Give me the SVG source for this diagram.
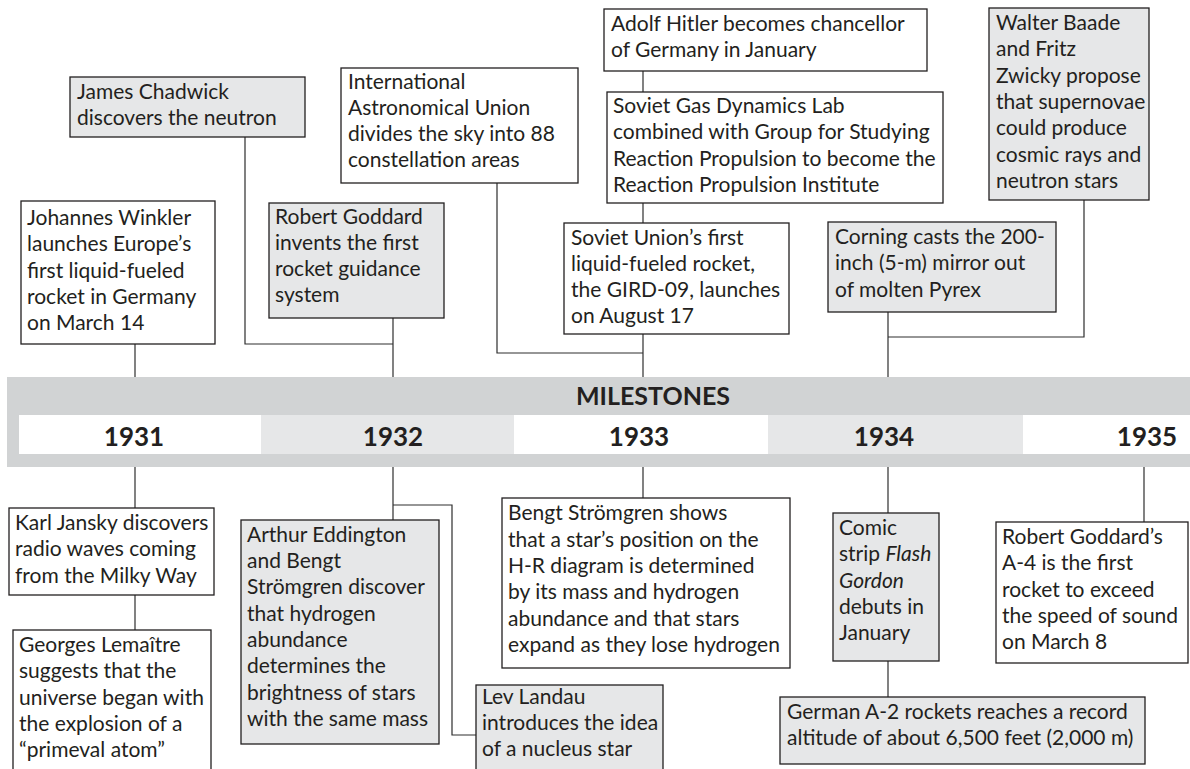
<svg xmlns="http://www.w3.org/2000/svg" width="1190" height="769" viewBox="0 0 1190 769">
  <style>
    .box { stroke: #231f20; stroke-width: 1.3; }
    .w { fill: #ffffff; }
    .g { fill: #e6e7e8; }
    .t { font-family: Lato, "Open Sans", "Liberation Sans", sans-serif; font-size: 21px; fill: #231f20; }
    .yr { font-family: Lato, "Open Sans", "Liberation Sans", sans-serif; font-size: 26px; font-weight: 700; fill: #231f20; text-anchor: middle; }
    .hd { font-family: Lato, "Open Sans", "Liberation Sans", sans-serif; font-size: 25px; font-weight: 700; fill: #231f20; text-anchor: middle; }
    .con { fill: none; stroke: #2e2e2e; stroke-width: 1.2; }
    .i { font-style: italic; }
  </style>
  <rect width="1190" height="769" fill="#ffffff"/>

  <!-- timeline band -->
  <g id="band">
    <rect x="7" y="377" width="1183" height="90" fill="#d1d3d4"/>
    <rect x="19" y="415" width="242" height="39" fill="#ffffff"/>
    <rect x="261" y="415" width="253" height="39" fill="#e6e7e8"/>
    <rect x="514" y="415" width="254" height="39" fill="#ffffff"/>
    <rect x="768" y="415" width="255" height="39" fill="#e6e7e8"/>
    <rect x="1023" y="415" width="167" height="39" fill="#ffffff"/>
    <text class="hd" x="653" y="405">MILESTONES</text>
    <text class="yr" x="134" y="446">1931</text>
    <text class="yr" x="393" y="446">1932</text>
    <text class="yr" x="639" y="446">1933</text>
    <text class="yr" x="884" y="446">1934</text>
    <text class="yr" x="1147" y="446">1935</text>
  </g>

  <!-- connectors -->
  <g id="connectors">
    <path class="con" d="M135 344V377"/>
    <path class="con" d="M245 137V344H393"/>
    <path class="con" d="M393 318V377"/>
    <path class="con" d="M497 183V353H643"/>
    <path class="con" d="M643 71V92"/>
    <path class="con" d="M643 203V223"/>
    <path class="con" d="M643 334V377"/>
    <path class="con" d="M1084 200V337H888"/>
    <path class="con" d="M888 312V377"/>
    <path class="con" d="M135 467V508"/>
    <path class="con" d="M135 595V630"/>
    <path class="con" d="M393 467V520"/>
    <path class="con" d="M393 505H452V735H476"/>
    <path class="con" d="M643 467V498"/>
    <path class="con" d="M888 467V513"/>
    <path class="con" d="M888 661V697"/>
    <path class="con" d="M1144 467V522"/>
  </g>

  <!-- 1931 above -->
  <g id="chadwick">
    <rect class="box g" x="70" y="77" width="235" height="60"/>
    <text class="t" x="77"><tspan x="77" y="99">James Chadwick</tspan><tspan x="77" y="125">discovers the neutron</tspan></text>
  </g>
  <g id="winkler">
    <rect class="box w" x="21" y="201" width="194" height="143"/>
    <text class="t"><tspan x="27" y="225">Johannes Winkler</tspan><tspan x="27" y="251">launches Europe’s</tspan><tspan x="27" y="278">first liquid-fueled</tspan><tspan x="27" y="304">rocket in Germany</tspan><tspan x="27" y="330">on March 14</tspan></text>
  </g>

  <!-- 1932 above -->
  <g id="goddard-guidance">
    <rect class="box g" x="269" y="203" width="175" height="115"/>
    <text class="t"><tspan x="275" y="224">Robert Goddard</tspan><tspan x="275" y="250">invents the first</tspan><tspan x="275" y="276">rocket guidance</tspan><tspan x="275" y="302">system</tspan></text>
  </g>
  <g id="iau">
    <rect class="box w" x="341" y="68" width="237" height="115"/>
    <text class="t"><tspan x="348" y="89">International</tspan><tspan x="348" y="115">Astronomical Union</tspan><tspan x="348" y="141">divides the sky into 88</tspan><tspan x="348" y="167">constellation areas</tspan></text>
  </g>

  <!-- 1933 above -->
  <g id="hitler">
    <rect class="box w" x="604" y="9" width="323" height="62"/>
    <text class="t"><tspan x="611" y="31">Adolf Hitler becomes chancellor</tspan><tspan x="611" y="57">of Germany in January</tspan></text>
  </g>
  <g id="gas-dynamics">
    <rect class="box w" x="607" y="92" width="336" height="111"/>
    <text class="t"><tspan x="613" y="113">Soviet Gas Dynamics Lab</tspan><tspan x="613" y="139">combined with Group for Studying</tspan><tspan x="613" y="166">Reaction Propulsion to become the</tspan><tspan x="613" y="192">Reaction Propulsion Institute</tspan></text>
  </g>
  <g id="gird-09">
    <rect class="box w" x="564" y="223" width="225" height="111"/>
    <text class="t"><tspan x="571" y="245">Soviet Union’s first</tspan><tspan x="571" y="271">liquid-fueled rocket,</tspan><tspan x="571" y="297">the GIRD-09, launches</tspan><tspan x="571" y="323">on August 17</tspan></text>
  </g>

  <!-- 1934 above -->
  <g id="baade-zwicky">
    <rect class="box g" x="989" y="8" width="160" height="192"/>
    <text class="t"><tspan x="996" y="30">Walter Baade</tspan><tspan x="996" y="56">and Fritz</tspan><tspan x="996" y="83">Zwicky propose</tspan><tspan x="996" y="109">that supernovae</tspan><tspan x="996" y="135">could produce</tspan><tspan x="996" y="162">cosmic rays and</tspan><tspan x="996" y="188">neutron stars</tspan></text>
  </g>
  <g id="corning">
    <rect class="box g" x="828" y="222" width="228" height="90"/>
    <text class="t"><tspan x="835" y="244">Corning casts the 200-</tspan><tspan x="835" y="270">inch (5-m) mirror out</tspan><tspan x="835" y="297">of molten Pyrex</tspan></text>
  </g>

  <!-- 1931 below -->
  <g id="jansky">
    <rect class="box w" x="9" y="508" width="205" height="87"/>
    <text class="t"><tspan x="15" y="530">Karl Jansky discovers</tspan><tspan x="15" y="556">radio waves coming</tspan><tspan x="15" y="583">from the Milky Way</tspan></text>
  </g>
  <g id="lemaitre">
    <rect class="box w" x="13" y="630" width="198" height="150"/>
    <text class="t"><tspan x="19" y="652">Georges Lemaître</tspan><tspan x="19" y="678">suggests that the</tspan><tspan x="19" y="705">universe began with</tspan><tspan x="19" y="731">the explosion of a</tspan><tspan x="19" y="757">“primeval atom”</tspan></text>
  </g>

  <!-- 1932 below -->
  <g id="eddington-stromgren">
    <rect class="box g" x="241" y="520" width="198" height="224"/>
    <text class="t"><tspan x="247" y="542">Arthur Eddington</tspan><tspan x="247" y="568">and Bengt</tspan><tspan x="247" y="594">Strömgren discover</tspan><tspan x="247" y="621">that hydrogen</tspan><tspan x="247" y="647">abundance</tspan><tspan x="247" y="673">determines the</tspan><tspan x="247" y="700">brightness of stars</tspan><tspan x="247" y="726">with the same mass</tspan></text>
  </g>
  <g id="landau">
    <rect class="box g" x="476" y="685" width="187" height="100"/>
    <text class="t"><tspan x="482" y="704">Lev Landau</tspan><tspan x="482" y="730">introduces the idea</tspan><tspan x="482" y="756">of a nucleus star</tspan></text>
  </g>

  <!-- 1933 below -->
  <g id="stromgren">
    <rect class="box w" x="502" y="498" width="288" height="170"/>
    <text class="t"><tspan x="508" y="520">Bengt Strömgren shows</tspan><tspan x="508" y="547">that a star’s position on the</tspan><tspan x="508" y="573">H-R diagram is determined</tspan><tspan x="508" y="599">by its mass and hydrogen</tspan><tspan x="508" y="626">abundance and that stars</tspan><tspan x="508" y="652">expand as they lose hydrogen</tspan></text>
  </g>

  <!-- 1934 below -->
  <g id="flash-gordon">
    <rect class="box g" x="833" y="513" width="106" height="148"/>
    <text class="t"><tspan x="839" y="535">Comic</tspan><tspan x="839" y="561">strip <tspan class="i">Flash</tspan></tspan><tspan x="839" y="588" class="i">Gordon</tspan><tspan x="839" y="614">debuts in</tspan><tspan x="839" y="640">January</tspan></text>
  </g>
  <g id="a2-rocket">
    <rect class="box g" x="780" y="697" width="365" height="67"/>
    <text class="t"><tspan x="787" y="719">German A-2 rockets reaches a record</tspan><tspan x="787" y="745">altitude of about 6,500 feet (2,000 m)</tspan></text>
  </g>

  <!-- 1935 below -->
  <g id="goddard-a4">
    <rect class="box w" x="996" y="522" width="192" height="141"/>
    <text class="t"><tspan x="1002" y="544">Robert Goddard’s</tspan><tspan x="1002" y="570">A-4 is the first</tspan><tspan x="1002" y="597">rocket to exceed</tspan><tspan x="1002" y="623">the speed of sound</tspan><tspan x="1002" y="649">on March 8</tspan></text>
  </g>
</svg>
